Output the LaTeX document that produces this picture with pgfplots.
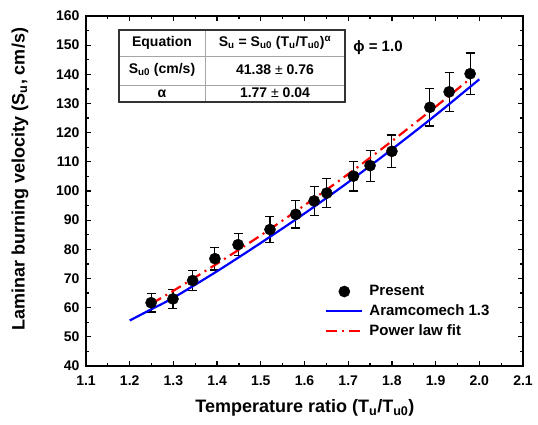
\documentclass[border=0pt]{standalone}
\usepackage{pgfplots}
\pgfplotsset{compat=1.18}
\usepackage{fontspec}
\setmainfont{Liberation Sans}
\definecolor{pblue}{RGB}{0,0,255}
\definecolor{pred}{RGB}{255,0,0}
\pgfplotsset{
  mylinelegend/.style={legend image code/.code={\draw[##1] (0pt,0pt) -- (36pt,0pt);}},
  mymarklegend/.style={legend image code/.code={\draw[##1] plot coordinates {(18pt,0pt)};}},
}
\begin{document}
\begin{tikzpicture}
\path[use as bounding box] (-86pt,-58pt) rectangle (452pt,366pt);
\begin{axis}[
  at={(0pt,0pt)}, anchor=south west,
  width=437pt, height=350pt, scale only axis,
  xmin=1.1, xmax=2.1, ymin=40, ymax=160,
  xtick={1.1,1.2,1.3,1.4,1.5,1.6,1.7,1.8,1.9,2.0,2.1},
  ytick={40,50,60,70,80,90,100,110,120,130,140,150,160},
  minor x tick num=1, minor y tick num=1,
  tick align=inside, tick pos=both,
  major tick length=5pt, minor tick length=3pt,
  every tick/.style={black, line width=1.2pt},
  axis line style={line width=1.8pt},
  /pgf/number format/assume math mode=true,
  xticklabel style={/pgf/number format/fixed, /pgf/number format/fixed zerofill, /pgf/number format/precision=1, font=\bfseries\fontsize{14}{16}\selectfont, yshift=-6pt},
  yticklabel style={/pgf/number format/fixed, font=\bfseries\fontsize{14}{16}\selectfont, xshift=-3pt},
  xlabel={Temperature ratio (T\textsubscript{u}/T\textsubscript{u0})},
  ylabel={Laminar burning velocity (S\textsubscript{u}, cm/s)},
  xlabel style={at={(axis description cs:0.501,-0.12)}, anchor=center, font=\bfseries\fontsize{18}{20}\selectfont},
  ylabel style={at={(axis description cs:-0.151,0.534)}, anchor=center, rotate=0, font=\bfseries\fontsize{18}{20}\selectfont},
  legend style={at={(axis description cs:0.547,0.236)}, anchor=north west, draw=none, fill=none,
    font=\bfseries\fontsize{15}{18}\selectfont, row sep=3.5pt, inner sep=0pt,
    /tikz/every odd column/.append style={column sep=4pt}},
  legend cell align=left,
]
\addplot[only marks, mark=*, mark size=5.6pt, black, mymarklegend,
  error bars/.cd, y dir=both, y explicit, error mark=|,
  error bar style={black, line width=1.1pt},
  error mark options={black, mark size=4.5pt, line width=1.1pt}]
  table[x=x, y=y, y error=e] {
x y e
1.249 61.7 3.2
1.299 63.0 3.2
1.344 69.3 3.4
1.395 76.8 3.9
1.448 81.6 3.8
1.521 86.8 4.5
1.580 92.0 4.7
1.622 96.6 4.9
1.651 99.3 5.0
1.712 105.1 5.1
1.750 108.7 5.3
1.800 113.6 5.6
1.887 128.7 6.4
1.931 134.0 6.7
1.979 140.2 7.1
};
\addlegendentry{Present}
\addplot[pblue, line width=2.2pt, smooth, no marks, mylinelegend]
  coordinates {(1.2,55.6) (1.25,59.5) (1.3,63.4) (1.4,72.5) (1.5,82.2) (1.6,92.3) (1.7,103.0) (1.8,114.3) (1.9,126.0) (2.0,138.3)};
\addlegendentry{Aramcomech 1.3}
\addplot[pred, line width=2.2pt, smooth, no marks, dash pattern=on 11pt off 5pt on 2pt off 5pt, mylinelegend]
  coordinates {(1.25,61.4) (1.3,65.8) (1.4,75.1) (1.5,84.8) (1.6,95.1) (1.7,105.8) (1.8,117.1) (1.9,128.9) (1.975,138.0)};
\addlegendentry{Power law fit}
\end{axis}
\begin{scope}[x=1pt,y=1pt, shift={(-86pt,366pt)}, yscale=-1]
  \draw[gray!70, line width=0.9pt] (205,30) -- (205,102);
  \draw[gray!70, line width=0.9pt] (119,56) -- (345,56);
  \draw[gray!70, line width=0.9pt] (119,85) -- (345,85);
  \draw[black!80, line width=1.1pt] (119,30) rectangle (345,102);
  \tikzset{tt/.style={font=\bfseries\fontsize{14}{16}\selectfont, inner sep=0pt, anchor=center}}
  \node[tt] at (162,43) {Equation};
  \node[tt] at (275,43) {S\textsubscript{u} = S\textsubscript{u0} (T\textsubscript{u}/T\textsubscript{u0})\textsuperscript{α}};
  \node[tt] at (162,70) {S\textsubscript{u0} (cm/s)};
  \node[tt] at (275,70) {41.38 {\mdseries ±} 0.76};
  \node[tt] at (162,94) {α};
  \node[tt] at (275,93) {1.77 {\mdseries ±} 0.04};
  \node[font=\bfseries\fontsize{15}{18}\selectfont, anchor=center] at (378,48) {ϕ = 1.0};
\end{scope}
\end{tikzpicture}
\end{document}
